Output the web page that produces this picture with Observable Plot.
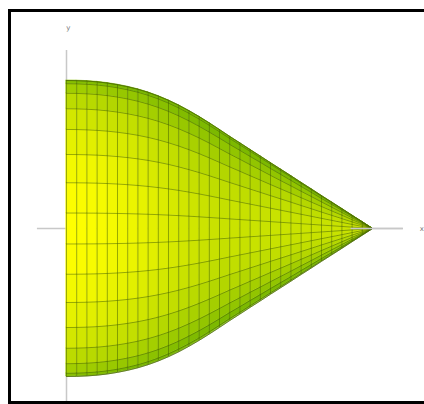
<!DOCTYPE html>
<html>
<head>
<meta charset="utf-8">
<script src="https://cdn.jsdelivr.net/npm/d3@7"></script>
<script src="https://cdn.jsdelivr.net/npm/@observablehq/plot@0.6"></script>
<style>
  html, body { margin: 0; padding: 0; background: #fff; }
  #wrap { position: relative; width: 424px; height: 404px; overflow: hidden; }
  #chart { position: absolute; left: 0; top: 0; }
  #frame { position: absolute; left: 8px; top: 9px; width: 420px; height: 389px;
           border-left: 3px solid #000; border-top: 3px solid #000; border-bottom: 3px solid #000; }
</style>
</head>
<body>
<div id="wrap"><div id="chart"></div><div id="frame"></div></div>
<script>
// Profile of the surface of revolution: position along the axis (0..1) and radius
const axisPositions = d3.range(31).map(i => i / 30);
const radii = [1.000, 0.999, 0.996, 0.991, 0.983, 0.972, 0.958, 0.941, 0.920, 0.895,
               0.866, 0.833, 0.796, 0.756, 0.713, 0.668, 0.622, 0.578, 0.533, 0.489,
               0.444, 0.400, 0.356, 0.311, 0.267, 0.222, 0.178, 0.134, 0.089, 0.045, 0.000];
// Meridian angles (degrees) of the grid lines, seen from above
const meridianAngles = d3.range(16).map(k => -90 + 12 * k);
// Axis extents and labels
const xAxisExtent = [-0.095, 1.101];
const yAxisExtent = [-1.19, 1.203];
const axisLabels = ["x", "y"];

const W = 424, H = 404;
const xDomain = [-66 / 306, (W - 66) / 306];
const yDomain = [-(H - 228) / 148, 228 / 148];
const aspect = 148 / 306; // px per y-unit over px per x-unit
const rad = d => d * Math.PI / 180;

// Cells of the surface with a lighting value
const cells = [];
let bmax = 0;
for (let i = 0; i < axisPositions.length - 1; i++) {
  const s = (radii[i + 1] - radii[i]) / (axisPositions[i + 1] - axisPositions[i]) * aspect;
  for (let k = 0; k < meridianAngles.length - 1; k++) {
    const a0 = rad(meridianAngles[k]), a1 = rad(meridianAngles[k + 1]);
    const am = (a0 + a1) / 2;
    const lx = -0.45;
    const b = Math.max(0, (-s * lx + Math.cos(am)) / (Math.sqrt(1 + s * s) * Math.sqrt(1 + lx * lx)));
    bmax = Math.max(bmax, b);
    const id = i * 100 + k;
    for (const j of [i, i + 1]) {
      cells.push({id, x: axisPositions[j], y1: radii[j] * Math.sin(a0), y2: radii[j] * Math.sin(a1), b});
    }
  }
}
cells.forEach(c => c.b = c.b / bmax);

const meridians = [];
meridianAngles.forEach((ang, k) => {
  axisPositions.forEach((x, j) => meridians.push({k, x, y: radii[j] * Math.sin(rad(ang))}));
});
const rings = axisPositions.map((x, j) => ({x, r: radii[j]}));

const chart = Plot.plot({
  width: W, height: H,
  marginTop: 0, marginRight: 0, marginBottom: 0, marginLeft: 0,
  x: {domain: xDomain, axis: null},
  y: {domain: yDomain, axis: null},
  color: {type: "linear", domain: [0, 1], range: ["#7ab800", "#ffff00"]},
  style: {background: "#fff"},
  marks: [
    Plot.ruleY([0], {x1: xAxisExtent[0], x2: xAxisExtent[1], stroke: "#c8c8c8", strokeWidth: 1.5}),
    Plot.ruleX([0], {y1: yAxisExtent[0], y2: yAxisExtent[1], stroke: "#c8c8c8", strokeWidth: 1.5}),
    Plot.areaY(cells, {x: "x", y1: "y1", y2: "y2", z: "id", fill: "b", stroke: "b", strokeWidth: 0.6}),
    Plot.ruleX(rings, {x: "x", y1: d => -d.r, y2: "r", stroke: "#3f5c00", strokeOpacity: 0.55, strokeWidth: 0.9}),
    Plot.line(meridians, {x: "x", y: "y", z: "k", stroke: "#3f5c00", strokeOpacity: 0.55, strokeWidth: 0.9}),
    Plot.line(meridians.filter(d => d.k === 0 || d.k === meridianAngles.length - 1),
      {x: "x", y: "y", z: "k", stroke: "#4f7000", strokeOpacity: 0.7, strokeWidth: 1}),
    Plot.ruleY([0], {x1: 0.93, x2: xAxisExtent[1], stroke: "#c8c8c8", strokeWidth: 1.5}),
    Plot.text([axisLabels[0]], {x: xAxisExtent[1] + 0.06, y: 0, text: d => d, fontSize: 7, fill: "#777", fontFamily: "DejaVu Sans"}),
    Plot.text([axisLabels[1]], {x: 0.006, y: yAxisExtent[1] + 0.155, text: d => d, fontSize: 7, fill: "#777", fontFamily: "DejaVu Sans"})
  ]
});
document.getElementById("chart").appendChild(chart);
</script>
</body>
</html>
